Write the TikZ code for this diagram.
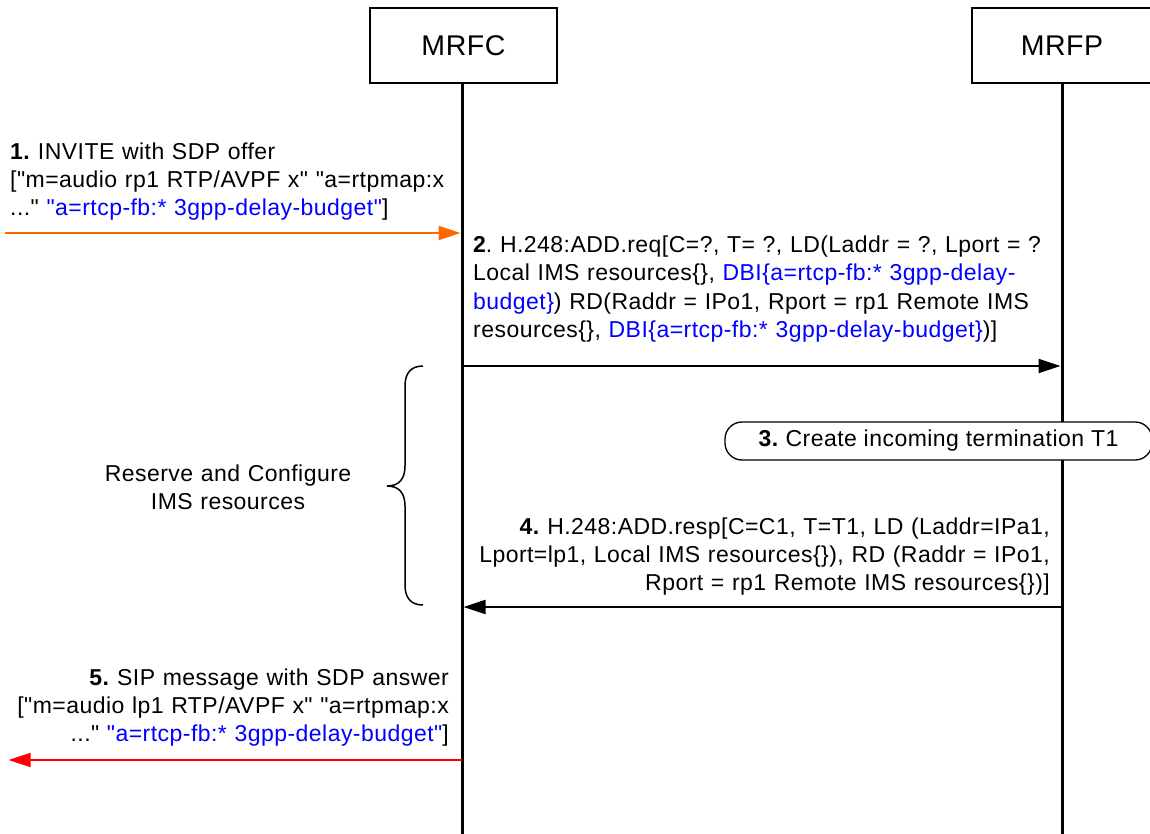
\documentclass[tikz,border=0pt]{standalone}
\usepackage{fontspec}
\newfontfamily\lsans{Liberation Sans}[LetterSpace=2]
\usetikzlibrary{arrows.meta}
\definecolor{sigorange}{RGB}{255,102,0}
\definecolor{sigblue}{RGB}{0,0,255}
\definecolor{sigred}{RGB}{255,0,0}
\newcommand{\bl}[1]{\textcolor{sigblue}{#1}}
\begin{document}
\begin{tikzpicture}[x=1pt,y=-1pt,
  entity/.style={draw,line width=1.3pt,minimum width=187pt,minimum height=75pt,inner sep=0pt,fill=white,font=\lsans\fontsize{28.5}{34}\selectfont},
  life/.style={line width=3pt},
  msg/.style={line width=2.2pt,-{Triangle[length=22pt,width=14pt]},shorten >=1.5pt},
  lbl/.style={inner sep=0pt,font=\lsans\frenchspacing\fontsize{23}{28}\selectfont},
  action/.style={draw,line width=1.3pt,rounded corners=17pt,minimum width=427pt,minimum height=38pt,inner sep=0pt,fill=white,font=\lsans\frenchspacing\fontsize{23}{28}\selectfont},
]
\useasboundingbox (0,0) rectangle (1150,834);
% entities
\node[entity] (mrfc) at (463.5,45.5) {MRFC};
\node[entity,minimum width=180pt] (mrfp) at (1062,45.5) {MRFP};
\coordinate (mrfcend) at (462,834);
\coordinate (mrfpend) at (1062,834);
\draw[life] (mrfc.south -| mrfcend) -- (mrfcend);
\draw[life] (mrfp.south -| mrfpend) -- (mrfpend);
% message 1
\coordinate (m1s) at (5,233);
\coordinate (m1e) at (462,233);
\draw[msg,draw=sigorange,fill=sigorange] (m1s) -- (m1e);
\node[lbl,anchor=base west,text width=455pt,align=left] (t1) at (10,160)
  {\textbf{1.} INVITE with SDP offer\\{}%
   ["m=audio rp1 RTP/AVPF x" "a=rtpmap:x\\{}%
   ..." \bl{"a=rtcp-fb:* 3gpp-delay-budget"}]};
% message 2
\coordinate (m2s) at (462,366);
\coordinate (m2e) at (1062,366);
\draw[msg] (m2s) -- (m2e);
\node[lbl,anchor=base west,text width=620pt,align=left] (t2) at (473,253)
  {\textbf{2}. H.248:ADD.req[C=?, T= ?, LD(Laddr = ?, Lport = ?\\{}%
   Local IMS resources\{\}, \bl{DBI\{a=rtcp-fb:* 3gpp-delay-}\\{}%
   \bl{budget\}}) RD(Raddr = IPo1, Rport = rp1 Remote IMS\\{}%
   resources\{\}, \bl{DBI\{a=rtcp-fb:* 3gpp-delay-budget\}})]};
% brace and annotation
\draw[line width=1.5pt] (423,366) .. controls (411,366) and (405,373) .. (405,386)
  -- (405,466) .. controls (405,479) and (399,486) .. (387,486)
  .. controls (399,486) and (405,493) .. (405,506)
  -- (405,585) .. controls (405,598) and (411,605) .. (423,605);
\node[lbl,anchor=base,text width=320pt,align=center] (res) at (228,481)
  {Reserve and Configure\\{}IMS resources};
% action 3
\node[action] (a3) at (938.5,441) {\textbf{3.} Create incoming termination T1};
% message 4
\coordinate (m4s) at (1062,607);
\coordinate (m4e) at (462,607);
\draw[msg] (m4s) -- (m4e);
\node[lbl,anchor=base east,text width=620pt,align=right] (t4) at (1050,534)
  {\textbf{4.} H.248:ADD.resp[C=C1, T=T1, LD (Laddr=IPa1,\\{}%
   Lport=lp1, Local IMS resources\{\}), RD (Raddr = IPo1,\\{}%
   Rport = rp1 Remote IMS resources\{\})]};
% message 5
\coordinate (m5s) at (462,760);
\coordinate (m5e) at (7,760);
\draw[msg,draw=sigred,fill=sigred] (m5s) -- (m5e);
\node[lbl,anchor=base east,text width=455pt,align=right] (t5) at (449,685)
  {\textbf{5.} SIP message with SDP answer\\{}%
   ["m=audio lp1 RTP/AVPF x" "a=rtpmap:x\\{}%
   ..." \bl{"a=rtcp-fb:* 3gpp-delay-budget"}]};
\end{tikzpicture}
\end{document}
